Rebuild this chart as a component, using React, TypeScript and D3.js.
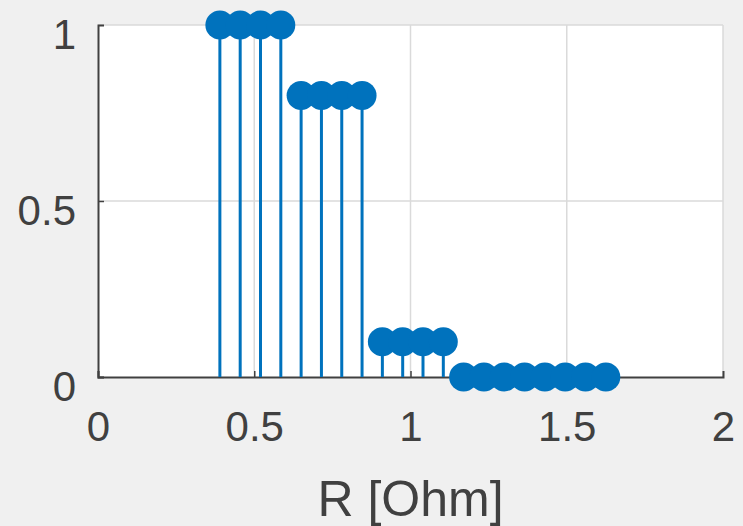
import React, { useEffect, useRef } from 'react';
import * as d3 from 'd3';

// resistance values (Ohm) and the stem heights
const rValues = [0.39, 0.455, 0.52, 0.585, 0.65, 0.715, 0.78, 0.845, 0.91, 0.975,
  1.04, 1.105, 1.17, 1.235, 1.3, 1.365, 1.43, 1.495, 1.56, 1.625];
const heights = [1, 1, 1, 1, 0.8, 0.8, 0.8, 0.8, 0.1, 0.1,
  0.1, 0.1, 0, 0, 0, 0, 0, 0, 0, 0];
const xTicks = [0, 0.5, 1, 1.5, 2];
const yTicks = [0, 0.5, 1];
const xLabel = 'R [Ohm]';

const W = 743;
const H = 526;

function App() {
  const ref = useRef<SVGSVGElement>(null);

  useEffect(() => {
    const svg = d3.select(ref.current);
    svg.selectAll('*').remove();

    const margin = { top: 25, right: 20, bottom: 149, left: 98 };
    const x = d3.scaleLinear().domain([0, 2]).range([margin.left, W - margin.right]);
    const y = d3.scaleLinear().domain([0, 1]).range([H - margin.bottom, margin.top]);

    svg.append('rect').attr('width', W).attr('height', H).attr('fill', '#f0f0f0');
    svg.append('rect')
      .attr('x', x(0)).attr('y', y(1))
      .attr('width', x(2) - x(0)).attr('height', y(0) - y(1))
      .attr('fill', '#ffffff');

    // grid
    const grid = svg.append('g').attr('stroke', '#dadada').attr('stroke-width', 1.5);
    grid.selectAll('.gx').data(xTicks.filter(d => d > 0)).enter().append('line')
      .attr('x1', d => x(d)).attr('x2', d => x(d))
      .attr('y1', y(0)).attr('y2', y(1));
    grid.selectAll('.gy').data(yTicks.filter(d => d > 0)).enter().append('line')
      .attr('x1', x(0)).attr('x2', x(2))
      .attr('y1', d => y(d)).attr('y2', d => y(d));

    // axes (inner ticks, MATLAB style)
    const xAxis = d3.axisBottom(x).tickValues(xTicks).tickSize(-6).tickPadding(34)
      .tickFormat(d => String(d));
    const yAxis = d3.axisLeft(y).tickValues(yTicks).tickSize(-6).tickPadding(22)
      .tickFormat(d => String(d));

    const gx = svg.append('g').attr('transform', `translate(0,${y(0)})`).call(xAxis);
    const gy = svg.append('g').attr('transform', `translate(${x(0)},0)`).call(yAxis);
    [gx, gy].forEach(g => {
      g.select('.domain').attr('stroke', '#404040').attr('stroke-width', 2);
      g.selectAll('.tick line').attr('stroke', '#404040').attr('stroke-width', 1.5);
      g.selectAll('.tick text')
        .attr('fill', '#404040')
        .attr('font-family', 'Liberation Sans, Arial, sans-serif')
        .attr('font-size', 42);
    });
    gy.selectAll('.tick text').attr('dy', '0.55em');
    gy.selectAll('.tick line').filter((d: any) => d === 1).remove();
    gx.selectAll('.tick line').filter((d: any) => d === 2).remove();

    // stems
    const data = rValues.map((r, i) => ({ r, v: heights[i] }));
    svg.append('g').selectAll('line').data(data).enter().append('line')
      .attr('x1', d => x(d.r)).attr('x2', d => x(d.r))
      .attr('y1', y(0)).attr('y2', d => y(d.v))
      .attr('stroke', '#0072BD').attr('stroke-width', 3);

    // markers
    svg.append('g').selectAll('circle').data(data).enter().append('circle')
      .attr('cx', d => x(d.r)).attr('cy', d => y(d.v))
      .attr('r', 14.5)
      .attr('fill', '#0072BD');

    svg.append('text')
      .attr('x', (x(0) + x(2)) / 2).attr('y', 516)
      .attr('text-anchor', 'middle')
      .attr('fill', '#404040')
      .attr('font-family', 'Liberation Sans, Arial, sans-serif')
      .attr('font-size', 50)
      .text(xLabel);
  }, []);

  return (
    <svg ref={ref} width={W} height={H}
      style={{ position: 'absolute', left: 0, top: 0, display: 'block' }} />
  );
}

export default App;
